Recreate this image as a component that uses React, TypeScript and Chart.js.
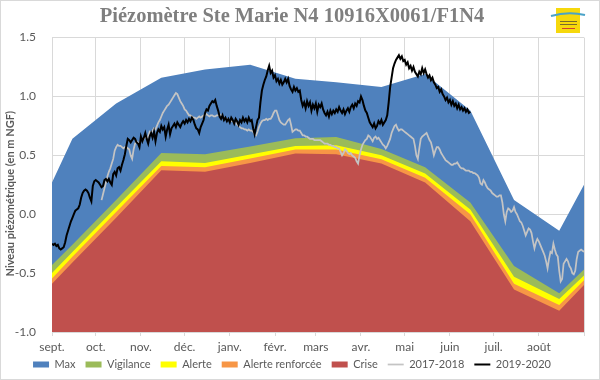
import React, { useEffect, useRef } from "react";
import { Chart, registerables } from "chart.js";

Chart.register(...registerables);

const chartTitle = "Piézomètre Ste Marie N4 10916X0061/F1N4";
const yAxisTitle = "Niveau piézométrique (en m NGF)";

// x axis: days since 1 September
const monthStartDays = [0, 30, 61, 91, 122, 153, 181, 212, 242, 273, 303, 334, 365];
const monthLabels = ["sept.", "oct.", "nov.", "déc.", "janv.", "févr.", "mars", "avr.", "mai", "juin", "juil.", "août"];

// threshold curves (mid-month vertices)
const thresholdDays = [0, 14, 44, 75, 105, 136, 167, 195, 226, 256, 287, 317, 348, 365];
const maxValues = [0.27, 0.64, 0.94, 1.16, 1.23, 1.27, 1.15, 1.12, 1.08, 1.19, 0.88, 0.12, -0.14, 0.25];
const vigilanceValues = [-0.43, -0.26, 0.12, 0.52, 0.51, 0.575, 0.645, 0.655, 0.555, 0.4, 0.1, -0.44, -0.67, -0.47];
const alerteValues = [-0.5, -0.32, 0.06, 0.45, 0.435, 0.508, 0.58, 0.585, 0.5, 0.345, 0.04, -0.53, -0.72, -0.52];
const renforceeValues = [-0.545, -0.36, 0.02, 0.41, 0.4, 0.473, 0.55, 0.55, 0.468, 0.31, 0.0, -0.59, -0.77, -0.56];
const criseValues = [-0.59, -0.41, -0.03, 0.374, 0.36, 0.436, 0.516, 0.51, 0.43, 0.27, -0.06, -0.64, -0.82, -0.6];

// 2017-2018 daily levels, starting at day 34
const greyStartDay = 34;
const greyValues = [
  0.12, 0.17, 0.22, 0.27, 0.32, 0.36, 0.39, 0.43, 0.47, 0.54,
  0.57, 0.59, 0.58, 0.58, 0.57, 0.56, 0.57, 0.57, 0.56, 0.55,
  0.5, 0.47, 0.55, 0.6, 0.62, 0.61, 0.6, 0.64, 0.62, 0.64,
  0.66, 0.64, 0.66, 0.7, 0.69, 0.71, 0.73, 0.72, 0.75, 0.78,
  0.8, 0.83, 0.86, 0.88, 0.9, 0.92, 0.93, 0.95, 0.97, 0.99,
  1.01, 1.03, 1.02, 0.99, 0.96, 0.94, 0.92, 0.89, 0.88, 0.86,
  0.84, 0.84, 0.83, 0.82, 0.82, 0.81, 0.82, 0.83, 0.82, 0.83,
  0.84, 0.84, 0.85, 0.84, 0.83, 0.84, 0.84, 0.83, 0.83, 0.84,
  0.84, 0.85, 0.84, 0.83, 0.82, 0.81, 0.81, 0.8, 0.8, 0.79,
  0.79, 0.78, 0.78, 0.76, 0.75, 0.74, 0.73, 0.73, 0.72, 0.72,
  0.71, 0.72, 0.71, 0.71, 0.7, 0.68, 0.67, 0.7, 0.74, 0.77,
  0.79, 0.8, 0.8, 0.81, 0.8, 0.81, 0.81, 0.83, 0.86, 0.88,
  0.88, 0.84, 0.8, 0.78, 0.77, 0.76, 0.76, 0.78, 0.8, 0.81,
  0.76, 0.7, 0.71, 0.72, 0.72, 0.71, 0.71, 0.69, 0.67, 0.67,
  0.66, 0.66, 0.65, 0.64, 0.64, 0.64, 0.63, 0.63, 0.63, 0.63,
  0.63, 0.62, 0.61, 0.6, 0.6, 0.6, 0.59, 0.59, 0.58, 0.58,
  0.57, 0.57, 0.56, 0.56, 0.53, 0.5, 0.52, 0.55, 0.54, 0.52,
  0.51, 0.52, 0.5, 0.49, 0.48, 0.45, 0.43, 0.5, 0.55, 0.59,
  0.61, 0.63, 0.64, 0.67, 0.66, 0.64, 0.62, 0.65, 0.66, 0.64,
  0.65, 0.63, 0.61, 0.59, 0.58, 0.56, 0.58, 0.61, 0.64, 0.69,
  0.72, 0.75, 0.76, 0.73, 0.71, 0.72, 0.72, 0.71, 0.7, 0.69,
  0.68, 0.67, 0.66, 0.65, 0.64, 0.58, 0.5, 0.47, 0.56, 0.64,
  0.66, 0.67, 0.68, 0.69, 0.66, 0.63, 0.61, 0.56, 0.5, 0.54,
  0.57, 0.57, 0.55, 0.52, 0.5, 0.48, 0.46, 0.45, 0.44, 0.43,
  0.42, 0.42, 0.43, 0.43, 0.44, 0.42, 0.4, 0.39, 0.39, 0.38,
  0.37, 0.37, 0.37, 0.36, 0.36, 0.35, 0.35, 0.34, 0.33, 0.31,
  0.26, 0.25, 0.29, 0.27, 0.24, 0.22, 0.21, 0.2, 0.18, 0.17,
  0.16, 0.15, 0.15, 0.16, 0.16, 0.1, 0.0, -0.06, 0.02, 0.05,
  0.04, 0.02, 0.03, 0.06, 0.02, 0.0, -0.03, -0.06, -0.07, -0.1,
  -0.14, -0.18, -0.15, -0.12, -0.13, -0.16, -0.23, -0.29, -0.24, -0.21,
  -0.23, -0.26, -0.29, -0.32, -0.35, -0.4, -0.46, -0.38, -0.32, -0.33,
  -0.25, -0.3, -0.34, -0.36, -0.48, -0.57, -0.55, -0.42, -0.4, -0.38,
  -0.4, -0.44, -0.46, -0.5, -0.51, -0.48, -0.38, -0.32, -0.31, -0.3,
  -0.31, -0.32,
];

// 2019-2020 daily levels, starting at day 0
const blackStartDay = 0;
const blackValues = [
  -0.25, -0.26, -0.25, -0.27, -0.26, -0.29, -0.3, -0.29, -0.28, -0.24,
  -0.18, -0.14, -0.1, -0.06, -0.03, 0.0, 0.03, 0.04, 0.05, 0.08,
  0.14, 0.18, 0.2, 0.21, 0.2, 0.18, 0.14, 0.11, 0.24, 0.28,
  0.29, 0.28, 0.27, 0.25, 0.23, 0.24, 0.29, 0.3, 0.28, 0.3,
  0.27, 0.25, 0.34, 0.36, 0.33, 0.39, 0.4, 0.37, 0.42, 0.46,
  0.51, 0.58, 0.64, 0.63, 0.61, 0.63, 0.65, 0.64, 0.61, 0.6,
  0.57, 0.66, 0.62, 0.65, 0.69, 0.64, 0.6, 0.66, 0.69, 0.65,
  0.7, 0.62, 0.69, 0.72, 0.7, 0.75, 0.72, 0.74, 0.66, 0.72,
  0.76, 0.68, 0.73, 0.75, 0.77, 0.74, 0.78, 0.76, 0.74, 0.77,
  0.79, 0.77, 0.8, 0.78, 0.81, 0.79, 0.82, 0.8, 0.76, 0.73,
  0.72, 0.69, 0.74, 0.77, 0.8, 0.86, 0.89, 0.88, 0.92, 0.94,
  0.96, 0.95, 0.97, 0.92, 0.88, 0.83, 0.81, 0.84, 0.8, 0.82,
  0.79, 0.81, 0.78, 0.82, 0.8, 0.77, 0.81, 0.79, 0.76, 0.8,
  0.78, 0.82, 0.79, 0.81, 0.78, 0.82, 0.79, 0.8, 0.73, 0.68,
  0.74, 0.8, 0.82, 0.95, 1.05, 1.1, 1.14, 1.17, 1.22, 1.26,
  1.2, 1.22, 1.16, 1.18, 1.13, 1.15, 1.11, 1.14, 1.1, 1.12,
  1.15, 1.12, 1.15, 1.09, 1.06, 1.04, 1.08, 1.05, 1.07, 1.04,
  1.05, 0.97, 0.92, 0.95, 0.9, 0.96, 0.92, 0.95, 0.88, 0.93,
  0.9, 0.94, 0.87, 0.93, 0.91, 0.94, 0.89, 0.86, 0.84, 0.87,
  0.83, 0.88, 0.85, 0.88, 0.86, 0.89, 0.87, 0.91, 0.88, 0.86,
  0.89, 0.85, 0.88, 0.9, 0.87, 0.91, 0.93, 0.9, 0.94, 0.92,
  0.96, 0.95, 1.0, 0.97, 0.92, 0.88, 0.86, 0.82, 0.78, 0.76,
  0.74, 0.77, 0.73, 0.75, 0.79, 0.77, 0.8, 0.76, 0.78, 0.8,
  0.84, 0.95, 1.08, 1.16, 1.24, 1.28, 1.31, 1.33, 1.35, 1.32,
  1.34, 1.3, 1.31, 1.27, 1.29, 1.24, 1.26, 1.22, 1.25, 1.21,
  1.19, 1.17, 1.21, 1.19, 1.24, 1.2, 1.23, 1.19, 1.16, 1.18,
  1.14, 1.16, 1.12, 1.1, 1.07, 1.08, 1.04, 1.06, 1.02, 1.0,
  0.97, 0.99, 0.95, 0.97, 0.93, 0.96, 0.92, 0.94, 0.9, 0.93,
  0.89, 0.91, 0.88, 0.9, 0.87, 0.89, 0.86, 0.87,
];

const seriesNames = ["Max", "Vigilance", "Alerte", "Alerte renforcée", "Crise", "2017-2018", "2019-2020"];

const toPoints = (days: number[], values: number[]) => values.map((v, i) => ({ x: days[i], y: v }));
const dailyPoints = (start: number, values: number[]) => values.map((v, i) => ({ x: start + i, y: v }));

const decorPlugin = {
  id: "decor",
  afterLayout(chart: any) {
    // month labels sit below a compact axis box: widen its clip area downward
    const xs = chart.scales.x;
    xs.bottom = xs.top + 24;
    // the vertical axis title is centred slightly below the plot centre
    const ys = chart.scales.y;
    ys.bottom = ys.bottom + 18;
  },
  beforeDraw(chart: any) {
    const { ctx, width, height } = chart;
    ctx.save();
    ctx.fillStyle = "#ffffff";
    ctx.fillRect(0, 0, width, height);
    ctx.strokeStyle = "#d9d9d9";
    ctx.lineWidth = 1;
    ctx.strokeRect(0.5, 0.5, width - 1, height - 1);
    // small logo, top right
    ctx.fillStyle = "#f6d80c";
    ctx.fillRect(556, 8, 24, 25);
    ctx.strokeStyle = "#4aa3c8";
    ctx.lineWidth = 2;
    ctx.beginPath();
    ctx.moveTo(551, 16);
    ctx.quadraticCurveTo(568, 11, 585, 15);
    ctx.stroke();
    ctx.strokeStyle = "#7a6a2a";
    ctx.lineWidth = 1;
    ctx.beginPath();
    ctx.moveTo(560, 21.5); ctx.lineTo(577, 21.5);
    ctx.moveTo(560, 24.5); ctx.lineTo(577, 24.5);
    ctx.stroke();
    ctx.strokeStyle = "#d04030";
    ctx.beginPath();
    ctx.moveTo(562, 28.5); ctx.lineTo(575, 28.5);
    ctx.stroke();
    ctx.restore();
  },
};

const tickFont = { family: "Lato", size: 12 };
const legendFont = { family: "Lato", size: 11 };

export default function App() {
  const canvasRef = useRef<HTMLCanvasElement | null>(null);

  useEffect(() => {
    document.body.style.margin = "0";
    const canvas = canvasRef.current;
    if (!canvas) return;

    const area = (i: number, values: number[], color: string, order: number) => ({
      label: seriesNames[i],
      data: toPoints(thresholdDays, values),
      backgroundColor: color,
      borderColor: color,
      borderWidth: 0,
      pointRadius: 0,
      pointStyle: "rect",
      fill: "start",
      tension: 0,
      order,
    });

    const chart = new Chart(canvas, {
      type: "line",
      data: {
        datasets: [
          area(0, maxValues, "#4f81bd", 5),
          area(1, vigilanceValues, "#9bbb59", 4),
          area(2, alerteValues, "#ffff00", 3),
          area(3, renforceeValues, "#f79646", 2),
          area(4, criseValues, "#c0504d", 1),
          {
            label: seriesNames[5],
            data: dailyPoints(greyStartDay, greyValues),
            borderColor: "#c4c4c4",
            backgroundColor: "#c4c4c4",
            borderWidth: 1.75,
            pointRadius: 0,
            pointStyle: "line",
            fill: false,
            tension: 0,
            order: 0,
          },
          {
            label: seriesNames[6],
            data: dailyPoints(blackStartDay, blackValues),
            borderColor: "#000000",
            backgroundColor: "#000000",
            borderWidth: 2,
            pointRadius: 0,
            pointStyle: "line",
            fill: false,
            tension: 0,
            order: -1,
          },
        ] as any,
      },
      options: {
        responsive: false,
        animation: false,
        layout: { padding: { left: 0, right: 16, top: 0, bottom: 0 } },
        plugins: {
          title: {
            display: true,
            text: chartTitle,
            color: "#7f7f7f",
            font: { family: "Liberation Serif", size: 20.5, weight: "bold" },
            padding: { top: 4, bottom: 9 },
          },
          legend: {
            position: "bottom",
            labels: {
              usePointStyle: true,
              pointStyleWidth: 16,
              boxHeight: 6,
              padding: 10,
              color: "#595959",
              font: legendFont,
              sort: (a: any, b: any) => a.datasetIndex - b.datasetIndex,
            },
          },
          tooltip: { enabled: false },
        },
        scales: {
          x: {
            type: "linear",
            min: 0,
            max: 365,
            afterBuildTicks: (scale: any) => {
              scale.ticks = monthStartDays.map((v) => ({ value: v }));
            },
            afterFit: (scale: any) => {
              scale.height = 17;
            },
            ticks: {
              autoSkip: false,
              maxRotation: 0,
              padding: 4,
              color: "#595959",
              font: tickFont,
              callback: (_v: any, i: number) => monthLabels[i] ?? "",
            },
            grid: { color: "#d9d9d9", tickLength: 4 },
            border: { color: "#d9d9d9" },
          },
          y: {
            min: -1,
            max: 1.5,
            afterFit: (scale: any) => {
              scale.width = 52;
            },
            ticks: {
              stepSize: 0.5,
              padding: 16,
              color: "#595959",
              font: tickFont,
              callback: (v: any) => Number(v).toFixed(1),
            },
            grid: { color: "#d9d9d9", drawTicks: false },
            border: { display: false },
            title: {
              display: true,
              text: yAxisTitle,
              color: "#595959",
              font: { family: "Lato", size: 11, weight: "bold" },
              padding: { top: 4, bottom: 0 },
            },
          },
        },
      } as any,
      plugins: [decorPlugin],
    });

    return () => chart.destroy();
  }, []);

  return (
    <div style={{ width: 600, height: 380 }}>
      <canvas ref={canvasRef} width={600} height={380} style={{ display: "block" }} />
    </div>
  );
}
